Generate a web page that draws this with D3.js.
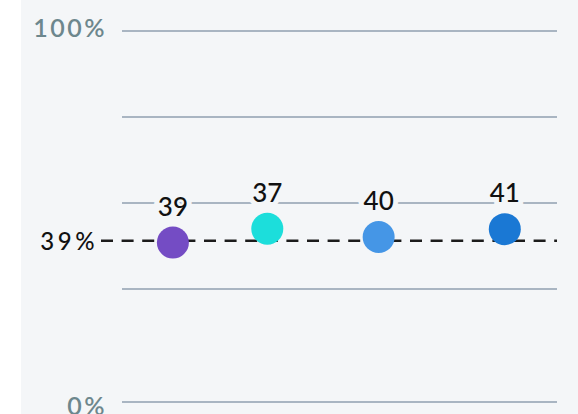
<!DOCTYPE html>
<html>
<head>
<meta charset="utf-8">
<script src="https://cdn.jsdelivr.net/npm/d3@7"></script>
<style>
  html, body { margin: 0; padding: 0; background: #ffffff; }
  svg { display: block; }
  text { font-family: Lato, "Noto Sans", sans-serif; }
</style>
</head>
<body>
<svg id="chart" width="578" height="414"></svg>
<script>
// ---- data ----
const categories = ["A", "B", "C", "D"];
const labels = [39, 37, 40, 41];          // value labels shown above points
const yValues = [38.5, 42.5, 40.1, 42.4]; // vertical position (%)
const xValues = [11.7, 33.4, 59.0, 88.0]; // horizontal position (0-100)
const colors = ["#744cc4", "#1cdedb", "#4596e6", "#1a78d4"];
const gridValues = [0, 25, 50, 75, 100];
const tickLabels = [{ v: 0, t: "0%" }, { v: 100, t: "100%" }];
const refValue = 39;
const refLabel = "39%";

// ---- layout ----
const W = 578, H = 414;
const svg = d3.select("#chart");

svg.append("rect")
  .attr("x", 21).attr("y", 0)
  .attr("width", W - 21).attr("height", H)
  .attr("fill", "#f4f6f8");

const x = d3.scaleLinear().domain([0, 100]).range([122, 557]);
const y = d3.scaleLinear().domain([0, 25, 100]).range([402, 289, 31]);

// gridlines
svg.append("g").selectAll("line")
  .data(gridValues).join("line")
  .attr("x1", x(0)).attr("x2", x(100))
  .attr("y1", d => y(d)).attr("y2", d => y(d))
  .attr("stroke", "#a9b5c2").attr("stroke-width", 2);

// tick labels
svg.append("g").selectAll("text")
  .data(tickLabels).join("text")
  .attr("x", 107)
  .attr("y", d => y(d.v) + (d.v === 0 ? 13 : 6))
  .attr("text-anchor", "end")
  .attr("font-size", 25)
  .attr("font-weight", 600)
  .attr("letter-spacing", 2.5)
  .attr("fill", "#6d878d")
  .text(d => d.t);

// reference dashed line
svg.append("line")
  .attr("x1", 101).attr("x2", x(100))
  .attr("y1", y(refValue)).attr("y2", y(refValue))
  .attr("stroke", "#1c1c1c").attr("stroke-width", 2.5)
  .attr("stroke-dasharray", "12 8.6");

svg.append("text")
  .attr("x", 98)
  .attr("y", y(refValue) + 9)
  .attr("text-anchor", "end")
  .attr("font-size", 24)
  .attr("font-weight", 500)
  .attr("letter-spacing", 3.5)
  .attr("fill", "#111")
  .text(refLabel);

// points
const pts = categories.map((c, i) => ({ c, label: labels[i], xv: xValues[i], yv: yValues[i], color: colors[i] }));

svg.append("g").selectAll("circle")
  .data(pts).join("circle")
  .attr("cx", d => x(d.xv))
  .attr("cy", d => y(d.yv))
  .attr("r", 16)
  .attr("fill", d => d.color);

svg.append("g").selectAll("text")
  .data(pts).join("text")
  .attr("x", d => x(d.xv))
  .attr("y", d => y(d.yv) - 27)
  .attr("text-anchor", "middle")
  .attr("font-size", 26)
  .attr("font-weight", 500)
  .attr("fill", "#111")
  .attr("stroke", "#f4f6f8")
  .attr("stroke-width", 10)
  .attr("paint-order", "stroke")
  .text(d => d.label);
</script>
</body>
</html>
